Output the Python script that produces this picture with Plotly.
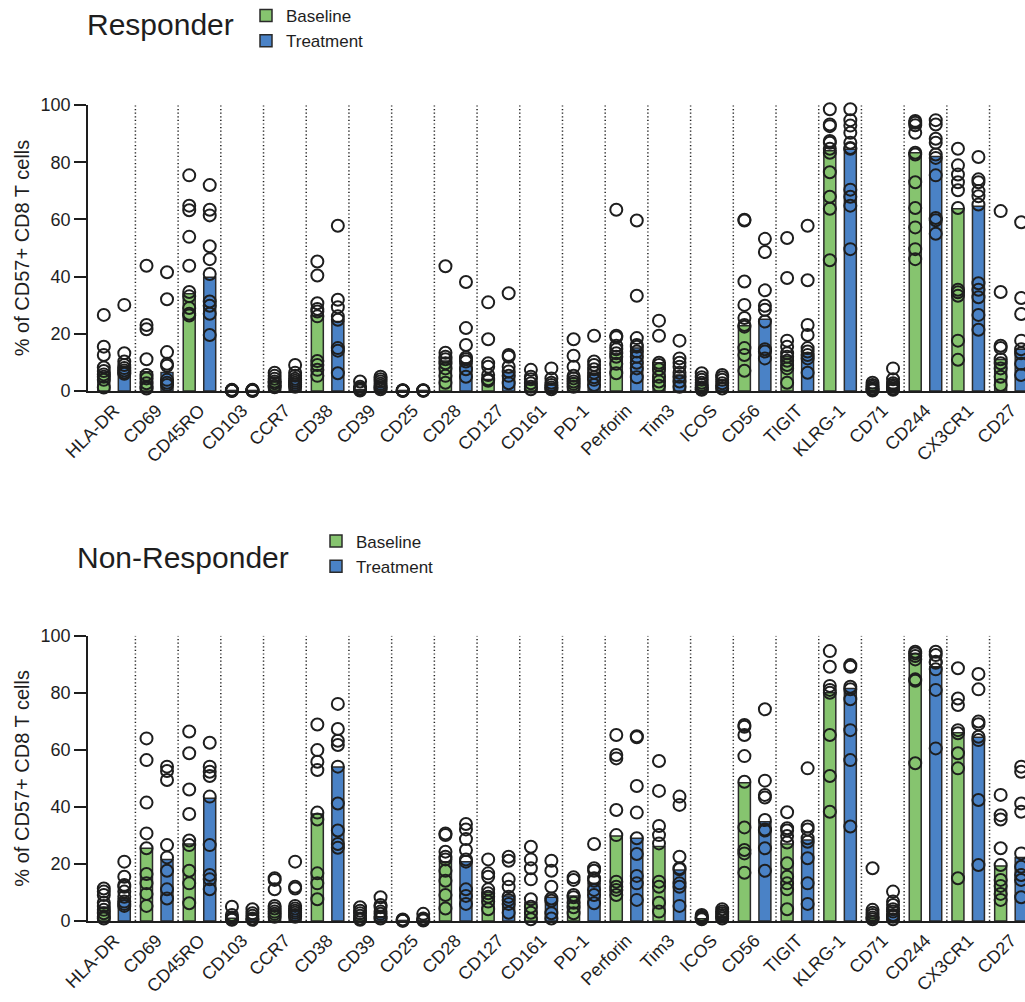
import plotly.graph_objects as go

# Surface markers on CD57+ CD8 T cells
markers = ["HLA-DR", "CD69", "CD45RO", "CD103", "CCR7", "CD38", "CD39", "CD25",
           "CD28", "CD127", "CD161", "PD-1", "Perforin", "Tim3", "ICOS", "CD56",
           "TIGIT", "KLRG-1", "CD71", "CD244", "CX3CR1", "CD27"]

# Responder: bar heights (median) per marker
resp_base_bar = [6.5, 6.7, 34.0, 0.2, 3.2, 26.3, 0.5, 0.2, 10.5, 4.0, 2.7, 4.4,
                 13.0, 9.9, 2.0, 22.8, 12.0, 84.0, 1.0, 83.3, 63.7, 11.0]
resp_treat_bar = [8.2, 6.5, 39.8, 0.2, 3.5, 24.3, 1.5, 0.2, 9.7, 6.5, 2.0, 6.2,
                  15.0, 5.6, 2.0, 25.1, 13.0, 84.5, 1.0, 82.0, 64.6, 14.6]

# Responder: individual patients
resp_base_pts = [
    [26.6, 15.5, 12.6, 8.2, 7.0, 5.8, 5.0, 3.9, 1.2],
    [43.8, 23.1, 21.6, 11.1, 5.6, 4.4, 2.7, 1.5, 0.9],
    [75.4, 64.8, 63.2, 53.9, 43.8, 34.6, 33.1, 29.0, 27.0, 26.4],
    [0.4, 0.3, 0.2, 0.2, 0.1, 0.1],
    [6.4, 5.3, 4.3, 3.3, 2.7, 1.8, 1.3],
    [45.3, 40.4, 30.7, 28.7, 27.8, 26.1, 10.5, 9.1, 7.4, 5.3],
    [3.3, 1.5, 0.9, 0.6, 0.4, 0.2],
    [0.3, 0.2, 0.2, 0.1, 0.1],
    [43.6, 13.4, 12.0, 11.1, 9.7, 7.9, 5.3, 2.9],
    [31.0, 18.1, 9.7, 8.5, 5.6, 4.1, 3.6],
    [7.4, 5.0, 4.1, 2.7, 1.5, 0.6],
    [18.1, 12.3, 8.5, 5.3, 4.4, 3.3, 2.5, 1.5],
    [63.4, 19.3, 18.8, 15.8, 14.6, 13.2, 12.0, 9.5, 6.2],
    [24.6, 19.3, 9.9, 9.1, 7.6, 5.0, 3.3, 1.8],
    [6.2, 4.8, 3.9, 2.9, 2.1, 1.2, 0.6, 0.4],
    [59.9, 59.6, 38.3, 30.1, 25.5, 23.1, 22.5, 15.0, 12.6, 7.1],
    [53.5, 39.5, 17.6, 15.5, 13.2, 12.0, 10.6, 9.1, 7.9, 2.9],
    [98.5, 93.2, 92.6, 87.4, 86.8, 84.7, 83.3, 76.5, 67.9, 63.7, 45.7],
    [2.9, 2.1, 1.5, 0.9, 0.4, 0.2],
    [94.4, 93.8, 92.9, 90.3, 83.3, 82.7, 73.0, 64.0, 57.2, 49.6, 46.1],
    [84.7, 78.9, 75.7, 73.0, 70.2, 64.0, 35.4, 34.5, 33.3, 17.6, 10.9],
    [62.9, 34.6, 15.8, 15.0, 11.1, 9.7, 7.9, 5.0, 2.1],
]
resp_treat_pts = [
    [30.1, 13.2, 10.3, 9.1, 8.0, 7.2, 6.5, 6.0],
    [41.5, 32.1, 13.6, 9.5, 8.8, 3.9, 2.9, 2.1],
    [72.0, 63.4, 61.4, 50.6, 46.1, 40.9, 31.3, 29.8, 27.0, 19.6],
    [0.4, 0.3, 0.2, 0.1, 0.1],
    [9.1, 6.4, 5.3, 4.3, 3.6, 2.9, 2.2, 1.5],
    [57.8, 31.9, 29.3, 26.1, 24.9, 15.0, 14.1, 6.2],
    [5.0, 4.1, 3.3, 2.5, 1.8, 1.2, 0.6],
    [0.3, 0.2, 0.2, 0.1],
    [38.1, 22.0, 16.1, 11.7, 11.1, 10.3, 7.6, 5.0],
    [34.2, 12.6, 12.0, 8.5, 6.8, 5.3, 2.7],
    [7.9, 4.4, 2.9, 2.1, 1.2, 0.6],
    [19.3, 10.3, 9.1, 7.6, 6.4, 4.8, 3.9, 2.1],
    [59.6, 33.3, 18.5, 16.1, 15.5, 13.8, 12.0, 9.9, 7.9, 4.8],
    [17.6, 11.4, 9.9, 8.5, 6.4, 5.0, 3.3, 1.5],
    [5.6, 4.8, 3.9, 2.7, 1.8, 0.9],
    [53.2, 48.6, 35.2, 29.8, 28.4, 24.3, 14.6, 13.8, 11.4],
    [57.8, 38.7, 23.1, 19.6, 15.0, 13.8, 12.6, 11.4, 6.4],
    [98.5, 94.7, 92.8, 90.3, 86.8, 85.0, 84.7, 70.4, 67.9, 64.8, 49.6],
    [7.9, 4.1, 2.7, 2.1, 1.5, 0.9, 0.4],
    [94.7, 93.2, 88.2, 86.8, 82.7, 81.5, 75.4, 60.5, 59.7, 55.0],
    [81.8, 74.0, 73.0, 69.9, 68.1, 65.2, 37.7, 35.4, 32.8, 26.6, 21.4],
    [59.0, 32.5, 26.9, 17.6, 14.6, 13.2, 9.5, 5.6],
]

# Non-Responder: bar heights (median) per marker
nonresp_base_bar = [4.8, 25.5, 27.0, 1.0, 4.1, 37.5, 0.8, 0.2, 20.8, 10.0, 6.4, 8.8,
                    29.8, 26.1, 0.8, 48.5, 27.0, 80.0, 1.5, 93.8, 66.0, 19.3]
nonresp_treat_bar = [7.8, 21.6, 43.0, 0.7, 4.1, 54.0, 1.5, 0.3, 20.8, 8.8, 8.3, 13.2,
                     29.0, 17.9, 1.5, 34.8, 28.4, 81.5, 2.5, 89.1, 64.4, 22.3]

# Non-Responder: individual patients
nonresp_base_pts = [
    [11.4, 10.3, 9.1, 6.4, 5.3, 3.9, 2.7, 1.5, 0.9],
    [64.0, 56.4, 41.5, 30.7, 25.5, 16.5, 13.2, 9.5, 5.3],
    [66.4, 58.8, 46.1, 37.5, 28.2, 26.6, 17.6, 13.2, 6.2],
    [5.0, 2.1, 1.2, 0.6, 0.4],
    [15.0, 14.4, 11.1, 5.3, 4.4, 3.3, 2.5, 1.5],
    [68.9, 59.9, 55.8, 52.9, 38.0, 35.6, 16.7, 13.2, 7.6],
    [4.8, 3.6, 2.7, 1.8, 0.9, 0.4],
    [0.5, 0.3, 0.2, 0.1],
    [30.7, 30.1, 24.3, 22.5, 21.6, 17.6, 14.1, 9.1, 4.4],
    [21.6, 16.7, 15.5, 11.1, 9.7, 8.5, 6.8, 4.1],
    [26.0, 21.6, 18.5, 14.6, 7.6, 5.0, 2.9, 0.6],
    [15.3, 14.4, 9.1, 8.3, 6.4, 4.8, 2.7],
    [65.2, 58.2, 57.0, 38.9, 30.1, 13.8, 12.0, 10.9, 9.1],
    [56.1, 45.6, 33.3, 30.1, 27.2, 13.8, 12.0, 6.4, 3.3],
    [2.1, 1.5, 1.2, 0.9, 0.6],
    [68.7, 68.1, 65.2, 57.8, 48.8, 32.8, 24.9, 23.7, 16.9],
    [38.1, 32.5, 31.7, 29.8, 27.5, 20.2, 15.5, 13.2, 11.1, 4.1],
    [94.6, 89.1, 82.4, 81.0, 80.0, 65.2, 50.8, 38.3],
    [18.5, 3.9, 2.9, 2.1, 1.2, 0.6],
    [94.4, 93.8, 92.9, 91.7, 84.7, 84.2, 55.3],
    [88.6, 78.0, 75.7, 66.9, 65.8, 58.8, 53.5, 15.0],
    [44.2, 37.1, 35.6, 25.5, 19.6, 14.4, 12.3, 9.5, 7.4],
]
nonresp_treat_pts = [
    [20.8, 15.5, 12.6, 12.0, 10.3, 8.5, 6.8, 6.0, 5.3],
    [54.1, 52.6, 49.4, 26.6, 22.3, 17.6, 11.1, 7.9],
    [62.5, 54.1, 52.3, 50.8, 43.6, 26.6, 16.1, 14.6, 11.1],
    [4.1, 2.7, 1.8, 0.9, 0.4],
    [20.8, 12.0, 11.4, 5.3, 4.4, 3.6, 2.9, 2.1, 1.5],
    [76.1, 67.3, 63.2, 61.7, 54.1, 41.2, 31.7, 27.0, 25.7],
    [8.3, 5.6, 4.8, 3.3, 2.5, 1.5, 0.9],
    [2.5, 0.9, 0.4, 0.2],
    [34.0, 32.1, 28.7, 24.9, 21.6, 20.8, 11.1, 8.8, 6.0],
    [22.5, 21.1, 14.6, 12.0, 8.5, 7.4, 6.0, 2.9],
    [21.1, 17.6, 12.0, 7.9, 7.1, 2.7, 0.9],
    [27.0, 18.5, 17.6, 15.0, 14.1, 10.9, 9.1, 6.2],
    [64.8, 64.4, 47.3, 38.0, 29.0, 23.5, 15.8, 13.2, 7.4],
    [43.6, 40.7, 22.5, 18.5, 18.1, 13.2, 12.0, 5.3],
    [4.1, 3.3, 2.7, 2.1, 1.5, 0.9],
    [74.2, 49.2, 44.2, 43.3, 35.4, 32.1, 31.7, 25.5, 17.6],
    [53.5, 33.1, 32.1, 29.0, 27.8, 22.0, 13.2, 6.0],
    [89.7, 89.1, 82.1, 81.2, 77.7, 66.9, 56.4, 33.1],
    [10.3, 6.8, 5.6, 4.1, 3.3, 2.1, 1.5, 0.6],
    [94.4, 93.2, 90.9, 90.5, 88.2, 81.0, 60.5],
    [86.6, 81.2, 69.9, 69.0, 64.6, 63.4, 42.4, 19.6],
    [54.1, 52.3, 41.2, 38.3, 23.7, 19.0, 16.1, 14.4, 8.3],
]

# ---- styling ----
FONT = "Liberation Sans, Arial, Helvetica, sans-serif"
INK = "#1e1e1e"
GREEN = "#86c46f"
BLUE = "#4a82c6"
W, H = 1025, 1002
LEFT = 88
OFFSET = 0.24      # bar centre offset from the category position
BAR_W = 0.28
XRANGE = [-0.61, 21.33]

# vertical domains (paper fraction, t=b=0)
DOMAINS = {
    "top": [1 - 391 / H, 1 - 105 / H],
    "bottom": [1 - 921 / H, 1 - 635.7 / H],
}

fig = go.Figure()
idx = list(range(len(markers)))


def add_panel(xa, ya, legend, base_bar, treat_bar, base_pts, treat_pts):
    for name, color, sign, bars, pts in (
        ("Baseline", GREEN, -1, base_bar, base_pts),
        ("Treatment", BLUE, 1, treat_bar, treat_pts),
    ):
        fig.add_trace(go.Bar(
            x=[i + sign * OFFSET for i in idx], y=bars, width=BAR_W,
            name=name, legend=legend, xaxis=xa, yaxis=ya,
            marker=dict(color=color, line=dict(color="#2a2a2a", width=1.5)),
            hoverinfo="skip",
        ))
        xs, ys = [], []
        for i, vals in enumerate(pts):
            xs += [i + sign * OFFSET] * len(vals)
            ys += vals
        fig.add_trace(go.Scatter(
            x=xs, y=ys, mode="markers", showlegend=False,
            xaxis=xa, yaxis=ya, cliponaxis=False,
            marker=dict(symbol="circle-open", size=12, color=INK,
                        line=dict(width=2)),
            hoverinfo="skip",
        ))
    # dotted separators between markers
    for i in idx[:-1]:
        fig.add_shape(type="line", xref=xa, yref=ya,
                      x0=i + 0.5, x1=i + 0.5, y0=0, y1=100, layer="below",
                      line=dict(color="#222222", width=1.5, dash="1.2px,2.4px"))


add_panel("x", "y", "legend", resp_base_bar, resp_treat_bar,
          resp_base_pts, resp_treat_pts)
add_panel("x2", "y2", "legend2", nonresp_base_bar, nonresp_treat_bar,
          nonresp_base_pts, nonresp_treat_pts)

xaxis_style = dict(
    range=XRANGE, domain=[0, 1], tickmode="array", tickvals=idx,
    ticktext=markers, tickangle=-45, ticks="", automargin=False,
    tickfont=dict(family=FONT, size=18, color=INK),
    showline=True, linecolor=INK, linewidth=1.8,
    showgrid=False, zeroline=False,
)
yaxis_style = dict(
    range=[0, 100], tickvals=[0, 20, 40, 60, 80, 100], automargin=False,
    ticks="outside", ticklen=12, tickwidth=1.6, tickcolor=INK,
    tickfont=dict(family=FONT, size=18, color=INK),
    showline=True, linecolor=INK, linewidth=1.8,
    showgrid=False, zeroline=False,
    title=dict(text="% of CD57+ CD8 T cells",
               font=dict(family=FONT, size=20, color=INK), standoff=5),
)

legend_style = dict(
    font=dict(family=FONT, size=17, color=INK),
    bgcolor="rgba(0,0,0,0)", xanchor="left", yanchor="top",
    tracegroupgap=0, itemclick=False, itemdoubleclick=False,
)

fig.update_layout(
    template="none",
    font=dict(family=FONT, color=INK),
    width=W, height=H,
    margin=dict(l=LEFT, r=0, t=0, b=0, autoexpand=False),
    paper_bgcolor="white", plot_bgcolor="white",
    barmode="overlay",
    xaxis=dict(anchor="y", **xaxis_style),
    xaxis2=dict(anchor="y2", **xaxis_style),
    yaxis=dict(anchor="x", domain=DOMAINS["top"], **yaxis_style),
    yaxis2=dict(anchor="x2", domain=DOMAINS["bottom"], **yaxis_style),
    legend=dict(x=(246 - LEFT) / (W - LEFT), y=1 + 2 / H, **legend_style),
    legend2=dict(x=(316 - LEFT) / (W - LEFT), y=1 - 523.5 / H, **legend_style),
    annotations=[
        dict(text="Responder", xref="paper", yref="paper",
             x=(85 - LEFT) / (W - LEFT), y=1 - 25 / H,
             xanchor="left", yanchor="middle", showarrow=False,
             font=dict(family=FONT, size=30, color=INK)),
        dict(text="Non-Responder", xref="paper", yref="paper",
             x=(75 - LEFT) / (W - LEFT), y=1 - 557 / H,
             xanchor="left", yanchor="middle", showarrow=False,
             font=dict(family=FONT, size=30, color=INK)),
    ],
)

fig.write_html("out.html")
